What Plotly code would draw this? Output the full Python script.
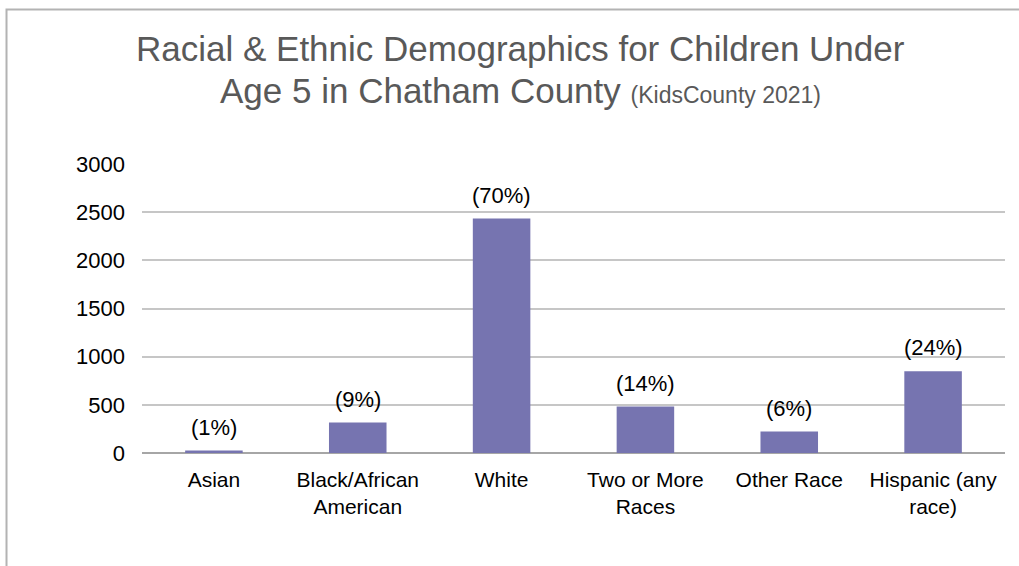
import plotly.graph_objects as go

categories = ["Asian", "Black/African<br>American", "White", "Two or More<br>Races", "Other Race", "Hispanic (any<br>race)"]
values = [25, 316, 2433, 482, 222, 848]
pct_labels = ["(1%)", "(9%)", "(70%)", "(14%)", "(6%)", "(24%)"]
y_ticks = [0, 500, 1000, 1500, 2000, 2500, 3000]

BAR = "#7674B0"
FONT = "Liberation Sans, Arial, sans-serif"

fig = go.Figure()
fig.add_trace(go.Bar(x=categories, y=values, marker=dict(color=BAR, line=dict(width=0)),
                     hoverinfo="x+y"))

for c, v, t in zip(categories, values, pct_labels):
    fig.add_annotation(x=c, y=v, text=t, showarrow=False, yanchor="bottom",
                       yshift=9, font=dict(size=22, color="#000000", family=FONT))

# title lines
fig.add_annotation(xref="paper", yref="paper", x=0.439, y=1.398, xanchor="center", yanchor="middle",
                   text="Racial & Ethnic Demographics for Children Under", showarrow=False,
                   font=dict(size=35, color="#595959", family=FONT))
fig.add_annotation(xref="paper", yref="paper", x=0.439, y=1.255, xanchor="center", yanchor="middle",
                   text="Age 5 in Chatham County <span style='font-size:23px'>(KidsCounty 2021)</span>",
                   showarrow=False, font=dict(size=35, color="#595959", family=FONT))

# outer chart border
fig.add_shape(type="rect", xref="paper", yref="paper", x0=-0.157, x1=1.1, y0=-0.6, y1=1.5346,
              line=dict(color="#b3b3b3", width=2), fillcolor="rgba(0,0,0,0)", layer="below")

fig.update_layout(
    width=1019, height=566,
    margin=dict(l=142, r=14, t=164, b=113),
    paper_bgcolor="white", plot_bgcolor="white",
    bargap=0.6, showlegend=False,
    font=dict(family=FONT, color="#000000"),
    xaxis=dict(type="category", showgrid=False, showline=False, zeroline=False,
               tickfont=dict(size=21, color="#000000", family=FONT), ticks="",
               ticklabelstandoff=12),
    yaxis=dict(range=[0, 3000], tickvals=y_ticks, showgrid=True, gridcolor="#c6c6c6", gridwidth=1.5,
               zeroline=True, zerolinecolor="#a6a6a6", zerolinewidth=1.5, showline=False,
               tickfont=dict(size=22, color="#000000", family=FONT), ticks="",
               ticklabelstandoff=16),
)

fig.write_html("out.html")
